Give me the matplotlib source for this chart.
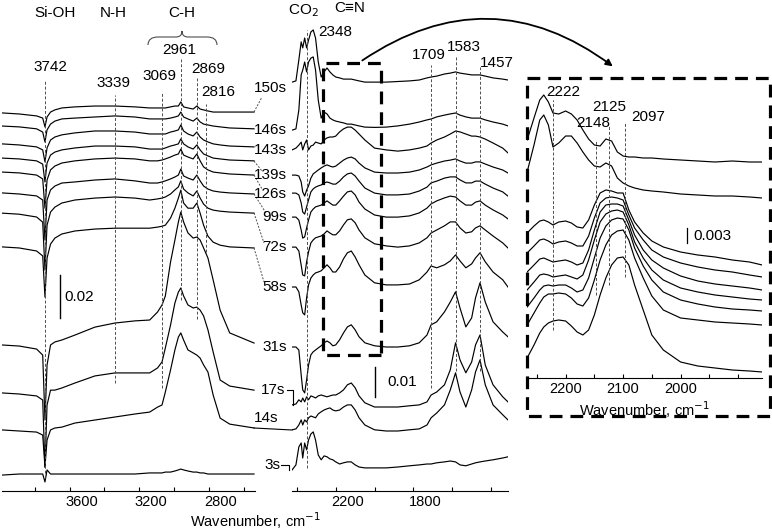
import matplotlib.pyplot as plt
from matplotlib.patches import FancyArrowPatch, Rectangle, PathPatch
from matplotlib.path import Path
from matplotlib.transforms import ScaledTranslation

plt.rcParams['font.family'] = ['Liberation Sans', 'DejaVu Sans']

# ---------------- data (absorbance in mA, stacked offsets kept as drawn) ----------------
times = ['150s', '146s', '143s', '139s', '126s', '99s', '72s', '58s', '31s', '17s', '14s', '3s']

# left panel: 4000-2540 cm-1, scale bar 0.02
left_wn = [3990, 3890, 3790, 3755, 3742, 3730, 3710, 3685, 3645, 3570, 3455, 3340, 3225, 3140, 3095, 3069,
           3050, 3020, 2995, 2975, 2961, 2945, 2920, 2890, 2869, 2850, 2830, 2805, 2775, 2735, 2680, 2540]
left_150s = [175.8, 175.3, 174.4, 173.4, 169.3, 173.9, 176.2, 177.2, 178.1, 178.6, 179.0, 179.0, 178.6, 178.1, 178.1, 178.1,
             178.1, 178.6, 179.0, 179.0, 180.9, 178.6, 178.1, 177.6, 179.0, 177.6, 177.2, 176.7, 176.2, 176.2, 176.2, 176.2]
left_146s = [169.7, 169.3, 168.4, 166.9, 162.3, 167.9, 170.6, 172.0, 173.0, 173.4, 173.9, 174.4, 173.9, 173.0, 173.0, 173.0,
             173.0, 173.4, 173.9, 174.4, 176.2, 173.9, 173.0, 172.0, 173.4, 171.6, 170.6, 170.2, 169.7, 169.3, 168.8, 168.4]
left_143s = [161.4, 160.9, 160.0, 158.6, 153.0, 159.5, 163.2, 164.6, 165.6, 166.5, 167.4, 167.4, 166.9, 166.0, 166.0, 166.0,
             166.0, 166.9, 167.4, 167.9, 170.2, 167.4, 166.0, 165.1, 166.9, 164.6, 163.2, 162.3, 161.4, 160.9, 160.4, 160.0]
left_139s = [154.8, 154.4, 153.5, 152.0, 143.7, 152.5, 156.2, 157.6, 158.6, 159.5, 160.4, 160.4, 160.0, 159.0, 159.0, 159.0,
             159.5, 160.4, 160.9, 161.4, 163.7, 161.4, 160.0, 159.0, 160.9, 158.6, 156.7, 155.8, 154.8, 154.4, 153.9, 153.5]
left_126s = [148.3, 147.9, 146.9, 145.1, 131.5, 144.6, 149.3, 151.1, 152.5, 153.5, 154.4, 154.8, 154.4, 153.5, 153.5, 153.9,
             154.4, 155.3, 156.2, 156.7, 159.0, 156.2, 155.3, 154.4, 156.7, 153.5, 150.7, 149.3, 148.3, 147.9, 147.4, 146.9]
left_99s = [138.6, 138.1, 137.2, 135.3, 116.7, 135.3, 140.0, 141.8, 143.2, 143.7, 144.6, 145.1, 144.2, 143.2, 143.2, 143.7,
            144.2, 145.1, 146.0, 146.9, 149.7, 146.5, 145.5, 144.6, 146.9, 144.2, 141.8, 140.4, 139.5, 139.0, 138.6, 138.1]
left_72s = [129.2, 128.7, 127.4, 125.0, 102.7, 123.6, 129.7, 132.0, 133.9, 135.3, 136.2, 136.7, 136.2, 135.3, 135.8, 136.2,
            136.7, 138.1, 140.0, 141.4, 144.2, 140.4, 138.6, 137.2, 139.5, 136.2, 133.4, 131.5, 130.6, 130.1, 129.7, 129.2]
left_58s = [113.5, 113.0, 111.6, 109.3, 90.2, 108.3, 114.8, 117.6, 119.5, 120.9, 121.8, 122.2, 122.2, 122.2, 122.7, 123.1,
            123.6, 126.9, 131.5, 136.2, 139.9, 133.9, 131.5, 131.5, 133.9, 129.2, 123.6, 118.5, 115.7, 114.3, 113.5, 113.0]
left_31s = [67.9, 67.4, 66.0, 63.2, 33.0, 58.6, 67.9, 69.3, 70.2, 72.5, 76.2, 78.1, 79.1, 79.5, 83.2, 86.5,
            90.7, 106.5, 116.7, 125.1, 129.7, 125.1, 120.0, 117.6, 118.1, 116.7, 113.0, 108.3, 98.1, 84.1, 73.5, 68.8]
left_17s = [45.6, 45.1, 44.2, 42.3, 11.1, 40.0, 46.9, 46.9, 47.9, 50.2, 53.5, 54.9, 54.9, 54.9, 57.2, 60.0,
            66.5, 77.2, 87.4, 92.5, 94.4, 90.7, 86.5, 85.1, 85.5, 84.1, 81.4, 74.9, 64.6, 51.6, 48.8, 46.9]
left_14s = [28.4, 27.9, 27.4, 26.0, 11.1, 23.7, 28.4, 29.3, 29.7, 31.6, 33.0, 34.4, 35.8, 36.7, 39.0, 40.0,
            46.0, 56.3, 65.6, 71.6, 73.5, 70.2, 65.6, 64.2, 63.2, 61.8, 58.6, 55.3, 44.6, 33.9, 31.1, 29.3]
left_3s = [7.4, 7.9, 7.9, 7.9, 4.2, 9.8, 7.9, 7.9, 7.9, 7.9, 7.9, 7.9, 7.9, 8.4, 8.4, 8.4,
           8.8, 8.8, 9.3, 9.8, 10.2, 9.8, 9.3, 8.8, 8.8, 8.4, 8.4, 7.9, 7.9, 7.9, 7.9, 7.9]

# middle panel: 2425-1313 cm-1, scale bar 0.01
mid_wn = [2425, 2405, 2390, 2378, 2370, 2360, 2350, 2340, 2328, 2316, 2304, 2290, 2275, 2260, 2245, 2230,
          2215, 2200, 2180, 2160, 2140, 2120, 2100, 2080, 2050, 2000, 1940, 1880, 1820, 1770, 1730, 1709,
          1680, 1640, 1610, 1583, 1560, 1530, 1500, 1480, 1457, 1430, 1390, 1340, 1313]
mid_150s = [136.3, 136.7, 143.7, 149.7, 147.7, 151.0, 147.7, 150.3, 153.0, 153.7, 151.0, 143.0, 138.0, 139.7, 141.0, 139.7,
            138.7, 138.0, 137.7, 137.3, 137.3, 137.3, 137.0, 136.7, 136.3, 136.3, 136.3, 136.5, 136.7, 137.0, 137.7, 138.0,
            138.3, 139.0, 139.3, 139.7, 139.3, 139.0, 138.7, 138.7, 138.7, 138.3, 137.7, 137.3, 137.0]
mid_146s = [120.3, 120.7, 127.0, 138.7, 140.3, 143.0, 139.7, 143.0, 144.3, 144.7, 140.3, 130.3, 124.3, 126.3, 125.7, 124.3,
            123.7, 123.3, 123.0, 122.7, 122.3, 122.3, 122.0, 121.7, 121.3, 121.2, 121.3, 121.7, 122.3, 123.0, 123.7, 124.0,
            124.7, 125.3, 125.7, 126.0, 125.3, 124.7, 124.3, 124.3, 124.3, 123.7, 123.0, 122.3, 121.7]
mid_143s = [113.7, 114.3, 115.3, 116.3, 113.7, 115.7, 117.0, 113.7, 115.0, 115.3, 116.3, 116.0, 115.7, 117.0, 117.7, 118.0,
            118.0, 118.3, 119.7, 120.7, 121.3, 121.3, 120.3, 119.0, 117.0, 114.3, 113.7, 113.3, 113.7, 114.3, 115.0, 116.0,
            117.0, 118.0, 119.0, 120.0, 119.7, 119.0, 118.3, 118.3, 118.0, 117.3, 116.0, 114.3, 112.7]
mid_139s = [105.3, 105.3, 105.0, 103.0, 99.7, 98.3, 100.3, 101.7, 104.3, 105.7, 106.3, 107.0, 107.7, 108.3, 108.7, 108.3,
            108.0, 108.3, 109.3, 110.3, 111.0, 111.3, 110.7, 109.3, 107.7, 106.3, 106.0, 106.0, 106.3, 107.0, 108.0, 108.7,
            109.3, 110.0, 110.3, 110.7, 110.0, 109.3, 109.3, 109.7, 109.7, 109.0, 108.0, 107.0, 106.0]
mid_126s = [99.3, 99.3, 98.7, 96.0, 93.0, 92.3, 94.7, 97.0, 99.7, 100.7, 101.3, 101.7, 102.0, 102.7, 103.0, 102.7,
            102.3, 102.3, 103.3, 104.7, 105.7, 106.0, 105.0, 103.3, 101.0, 99.3, 98.7, 98.7, 99.0, 100.0, 101.3, 102.7,
            103.3, 104.3, 104.7, 104.7, 103.7, 102.7, 102.7, 103.3, 103.3, 102.3, 101.0, 99.7, 98.3]
mid_99s = [91.3, 91.3, 90.3, 87.0, 84.3, 84.7, 87.7, 90.3, 93.0, 94.0, 94.7, 95.0, 95.3, 96.0, 96.7, 96.0,
           95.3, 95.3, 96.7, 98.3, 99.7, 100.0, 98.7, 96.3, 94.0, 92.0, 91.3, 91.3, 91.7, 92.7, 94.3, 95.7,
           96.7, 97.7, 98.3, 98.0, 96.7, 95.3, 95.3, 96.3, 96.7, 95.3, 93.7, 92.0, 90.7]
mid_72s = [81.3, 81.3, 80.0, 75.3, 72.0, 71.7, 76.4, 79.7, 82.7, 83.7, 84.4, 84.7, 85.0, 85.7, 86.7, 86.0,
           85.4, 85.4, 86.7, 88.7, 90.4, 90.7, 89.4, 87.0, 84.4, 82.4, 81.7, 81.3, 81.7, 82.7, 84.4, 86.0,
           87.0, 88.4, 89.7, 89.7, 87.7, 86.0, 86.4, 87.7, 88.4, 87.0, 85.0, 82.7, 81.0]
mid_58s = [68.0, 68.0, 66.4, 62.0, 59.4, 58.7, 64.4, 68.7, 71.0, 72.0, 72.7, 73.0, 73.4, 74.4, 75.4, 74.4,
           73.0, 73.0, 74.7, 77.4, 79.4, 80.0, 78.0, 75.4, 72.0, 69.4, 68.7, 68.7, 69.0, 70.4, 73.0, 75.0,
           74.4, 75.4, 76.7, 78.7, 76.7, 74.4, 75.7, 77.7, 79.4, 76.4, 73.0, 70.4, 68.0]
mid_31s = [48.0, 48.0, 47.0, 38.7, 33.7, 32.7, 37.0, 42.0, 45.4, 46.4, 47.0, 47.7, 48.4, 49.4, 50.0, 49.4,
           48.4, 48.7, 50.4, 52.7, 54.7, 55.4, 53.7, 51.4, 49.4, 48.4, 48.0, 48.0, 48.4, 49.4, 52.0, 55.4,
           56.4, 59.7, 63.0, 66.4, 61.0, 54.7, 57.7, 64.4, 69.4, 63.0, 56.4, 53.0, 51.4]
mid_17s = [28.7, 29.0, 30.4, 29.7, 31.0, 29.7, 31.4, 30.4, 31.7, 31.4, 31.0, 31.7, 32.0, 31.7, 31.4, 31.7,
           32.0, 32.0, 32.7, 33.7, 35.4, 36.0, 34.4, 31.7, 29.4, 28.0, 28.0, 28.0, 28.4, 28.7, 29.7, 32.0,
           33.0, 35.4, 40.4, 49.4, 43.7, 39.4, 43.0, 48.7, 52.0, 42.0, 35.4, 31.4, 29.7]
mid_14s = [20.4, 20.7, 22.0, 23.7, 22.0, 23.7, 23.0, 24.4, 25.0, 24.7, 24.4, 25.7, 26.4, 27.0, 27.4, 27.7,
           27.0, 26.7, 27.0, 28.0, 28.7, 28.7, 27.0, 24.4, 22.0, 20.4, 20.0, 20.0, 20.4, 20.7, 22.0, 24.4,
           26.0, 28.7, 33.7, 39.4, 33.0, 28.0, 33.7, 39.7, 43.7, 35.4, 28.7, 25.4, 23.7]
mid_3s = [7.0, 8.7, 14.7, 16.0, 11.0, 16.0, 13.7, 17.0, 19.0, 19.7, 17.0, 12.0, 10.4, 11.7, 11.4, 10.7,
          10.4, 9.7, 9.0, 9.4, 9.7, 9.7, 8.7, 8.0, 7.7, 7.7, 7.7, 8.0, 8.4, 8.7, 9.0, 9.0,
          9.4, 9.7, 10.0, 9.7, 8.7, 8.4, 9.0, 9.4, 9.7, 10.0, 10.4, 11.0, 11.4]

# inset: 2267-1858 cm-1, scale bar 0.003
ins_wn = [2267, 2255, 2245, 2238, 2230, 2222, 2212, 2200, 2190, 2180, 2170, 2160, 2150, 2140, 2130, 2120,
          2110, 2100, 2090, 2080, 2065, 2050, 2030, 2000, 1970, 1940, 1910, 1880, 1858]
ins_150s = [52.0, 56.4, 60.0, 61.0, 59.6, 57.4, 57.2, 57.8, 57.2, 56.0, 54.0, 52.2, 51.0, 50.8, 52.2, 51.8,
            49.6, 48.8, 48.6, 48.6, 48.4, 48.4, 48.2, 48.0, 47.8, 47.6, 47.8, 47.6, 47.6]
ins_146s = [45.6, 51.0, 56.0, 57.0, 55.0, 50.6, 51.4, 52.8, 52.8, 51.4, 49.6, 48.0, 46.8, 46.6, 47.4, 46.8,
            44.4, 43.4, 42.8, 42.4, 42.0, 41.8, 41.6, 41.2, 41.0, 40.8, 40.8, 40.6, 40.4]
ins_143s = [33.4, 34.8, 35.8, 36.0, 35.6, 35.0, 35.6, 35.8, 35.4, 34.6, 34.4, 36.0, 39.0, 41.4, 42.0, 41.8,
            41.4, 41.4, 38.0, 35.6, 33.4, 31.8, 30.6, 29.6, 29.0, 28.6, 28.0, 27.6, 27.0]
ins_139s = [29.4, 30.8, 32.0, 32.2, 31.8, 31.2, 31.6, 31.8, 31.4, 30.8, 30.8, 32.8, 36.4, 39.4, 40.4, 40.6,
            40.4, 40.0, 37.0, 34.4, 32.0, 30.0, 28.6, 27.4, 26.6, 26.0, 25.6, 25.0, 24.6]
ins_126s = [25.6, 27.0, 28.2, 28.4, 28.0, 27.6, 27.8, 28.0, 27.6, 27.0, 27.4, 30.0, 34.0, 37.6, 39.0, 39.2,
            39.2, 38.8, 36.0, 33.0, 30.0, 28.0, 26.4, 24.8, 23.8, 23.2, 22.8, 22.4, 22.0]
ins_99s = [22.0, 23.6, 25.0, 25.2, 25.0, 24.6, 24.8, 25.0, 24.6, 24.2, 25.0, 28.0, 32.0, 35.6, 37.2, 37.8,
           38.0, 37.6, 35.0, 31.6, 28.4, 26.0, 24.0, 22.4, 21.6, 21.0, 20.6, 20.2, 20.0]
ins_72s = [18.6, 20.4, 22.0, 22.8, 23.0, 22.8, 23.0, 23.0, 22.4, 21.6, 22.0, 24.4, 28.4, 32.4, 34.8, 36.0,
           36.4, 36.2, 34.0, 30.4, 26.8, 24.0, 21.6, 20.0, 19.2, 18.6, 18.2, 18.0, 17.8]
ins_58s = [15.0, 17.4, 19.4, 20.6, 21.2, 21.2, 21.4, 21.2, 20.4, 19.2, 18.8, 20.4, 24.0, 28.0, 31.0, 33.0,
           33.8, 34.0, 32.0, 28.4, 24.4, 20.8, 18.0, 16.4, 16.0, 15.6, 15.4, 15.2, 15.0]
ins_31s = [8.4, 11.0, 13.4, 14.6, 15.4, 15.8, 16.0, 15.8, 14.8, 13.6, 13.0, 14.0, 17.0, 21.0, 24.4, 27.0,
           28.4, 28.6, 27.0, 23.0, 18.0, 13.0, 10.0, 7.6, 6.8, 6.4, 6.0, 5.8, 5.6]

left_peaks = [3742, 3339, 3069, 2961, 2869, 2816]
mid_peaks = [2348, 1709, 1583, 1457]
ins_peaks = [2222, 2148, 2125, 2097]

left_set = [left_150s, left_146s, left_143s, left_139s, left_126s, left_99s,
            left_72s, left_58s, left_31s, left_17s, left_14s, left_3s]
mid_set = [mid_150s, mid_146s, mid_143s, mid_139s, mid_126s, mid_99s,
           mid_72s, mid_58s, mid_31s, mid_17s, mid_14s, mid_3s]
ins_set = [ins_150s, ins_146s, ins_143s, ins_139s, ins_126s, ins_99s, ins_72s, ins_58s, ins_31s]

# ---------------- layout ----------------
W, H = 772, 530
fig = plt.figure(figsize=(W / 100, H / 100), dpi=100)


def rect(x0, y0, x1, y1):
    return [x0 / W, 1 - y1 / H, (x1 - x0) / W, (y1 - y0) / H]


def style(ax, major, minor, shift=0):
    for s in ['top', 'left', 'right']:
        ax.spines[s].set_visible(False)
    ax.spines['bottom'].set_linewidth(0.8)
    ax.set_yticks([])
    ax.set_xticks(major)
    ax.set_xticks(minor, minor=True)
    ax.tick_params(axis='x', which='both', direction='in', length=3, width=0.8,
                   labelsize=10.5, pad=3)
    ax.patch.set_alpha(0)
    # the printed labels sit a little right of their ticks in the source figure
    for lbl in ax.get_xticklabels():
        lbl.set_transform(lbl.get_transform() + ScaledTranslation(shift / 100, 0, fig.dpi_scale_trans))


LC = dict(color='black', lw=0.85)
DL = dict(color='0.3', lw=0.7, ls=(0, (3, 2)))

axL = fig.add_axes(rect(2, 0, 255, 491))
axL.set_xlim(3989, 2534.5)
axL.set_ylim(0, 228.3)
style(axL, [3600, 3200, 2800], [3800, 3400, 3000, 2600], shift=12)
for s in left_set:
    axL.plot(left_wn, s, **LC)
for wn, (y1, y0) in zip(left_peaks, [(191, 6), (184, 50), (185, 48), (201, 89), (192, 80), (180, 111)]):
    axL.plot([wn, wn], [y0, y1], **DL)
axL.plot([3656, 3656], [80.4, 100.4], color='black', lw=1)
axL.text(3630, 90.4, '0.02', fontsize=11, va='center', ha='left')

axM = fig.add_axes(rect(292, 0, 508, 491))
axM.set_xlim(2425.25, 1312.85)
axM.set_ylim(0, 163.67)
style(axM, [2200, 1800], [2400, 2000, 1600, 1400], shift=12)
for s in mid_set:
    axM.plot(mid_wn, s, **LC)
for wn, (y0, y1) in zip(mid_peaks, [(7.7, 153.7), (34.3, 142.0), (40, 145.3), (40, 141.3)]):
    axM.plot([wn, wn], [y0, y1], **DL)
axM.add_patch(Rectangle((1967, 45.3), 298.6, 97.4, fill=False, lw=2.3, ls=(0, (4, 2.5)),
                        color='black', clip_on=False))
axM.plot([1998, 1998], [31.3, 41.3], color='black', lw=1)
axM.text(1935, 36.3, '0.01', fontsize=11, va='center', ha='left')

axI = fig.add_axes(rect(527, 78, 762, 378))
axI.set_xlim(2267.2, 1858.3)
axI.set_ylim(4.4, 64.4)
style(axI, [2200, 2100, 2000], [2250, 2150, 2050, 1950, 1900])
for s in ins_set:
    axI.plot(ins_wn, s, **LC)
for wn, (y0, y1) in zip(ins_peaks, [(14, 60), (21, 52), (23, 55), (24.6, 55.6)]):
    axI.plot([wn, wn], [y0, y1], **DL)
axI.plot([1989, 1989], [31.4, 34.4], color='black', lw=0.9)
axI.text(1977, 32.9, '0.003', fontsize=11, va='center', ha='left')
axI.set_xlabel('Wavenumber, cm$^{-1}$', fontsize=10.5, labelpad=2)

# ---------------- overlay annotations (figure pixels) ----------------
ov = fig.add_axes([0, 0, 1, 1])
ov.set_xlim(0, W)
ov.set_ylim(H, 0)
ov.axis('off')

T = dict(fontsize=11, ha='center', va='center')
for txt, x, y in [('Si-OH', 55, 13), ('N-H', 113, 13), ('C-H', 182, 13),
                  ('3742', 50, 67), ('3339', 113, 83), ('3069', 159, 76), ('2961', 179, 50),
                  ('2869', 208, 69), ('2816', 218, 92),
                  ('CO$_2$', 303, 11), ('C\u2261N', 350, 8), ('2348', 335, 32),
                  ('1709', 429, 55), ('1583', 464, 47), ('1457', 497, 63),
                  ('2222', 563, 92), ('2125', 609, 107), ('2148', 593, 123), ('2097', 648, 117)]:
    ov.text(x, y, txt, **T)
ov.text(255, 521, 'Wavenumber, cm$^{-1}$', fontsize=10.5, ha='center', va='center')

# C-H brace
brace = Path([(148, 45), (148, 37), (158, 37), (176, 37), (182, 37), (182, 31),
              (182, 37), (188, 37), (207, 37), (217, 37), (217, 45)],
             [Path.MOVETO, Path.CURVE3, Path.CURVE3, Path.LINETO, Path.CURVE3, Path.CURVE3,
              Path.CURVE3, Path.CURVE3, Path.LINETO, Path.CURVE3, Path.CURVE3])
ov.add_patch(PathPatch(brace, fill=False, lw=0.8, color='0.3'))

# time labels and connectors
label_y = [88, 130, 150, 175, 194, 217, 247, 287, 347, 390, 418, 465]
label_x = [287, 287, 287, 287, 287, 287, 287, 287, 287, 285, 278, 280]
for t, x, y in zip(times, label_x, label_y):
    ov.text(x, y, t, fontsize=11, ha='right', va='center')
leaders = [((254, 112), (262, 97)), ((254, 161), (262, 171)), ((254, 175), (262, 189)),
           ((254, 194), (266, 213)), ((254, 213), (264, 243)), ((254, 248), (264, 282))]
for (x0, y0), (x1, y1) in leaders:
    ov.plot([x0, x1], [y0, y1], color='0.3', lw=0.7, ls=(0, (2, 1.5)))
solid_links = [([254, 292], [428, 430]), ([287, 293, 293], [390, 390, 405]),
               ([281, 289, 289], [465, 465, 470])]
for xs, ys in solid_links:
    ov.plot(xs, ys, color='black', lw=0.8)

# inset frame and arrow
ov.add_patch(Rectangle((527, 78), 243, 338, fill=False, lw=2.3, ls=(0, (4, 2.5)), color='black'))
ov.add_patch(FancyArrowPatch((360, 62), (615, 68), connectionstyle='arc3,rad=-0.36',
                             arrowstyle='-|>', mutation_scale=10, lw=1.3, color='black'))

fig.savefig('out.png', dpi=100)
